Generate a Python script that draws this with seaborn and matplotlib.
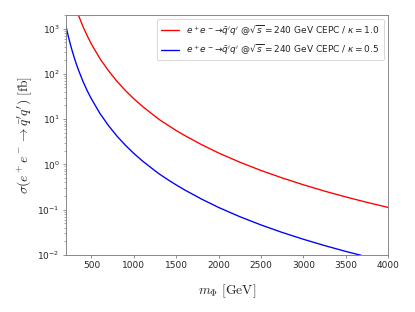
import numpy as np
import pandas as pd
import matplotlib
matplotlib.use("Agg")
import matplotlib.pyplot as plt
import seaborn as sns

# masses (GeV) and cross sections (fb)
mass_red = [300, 325, 350, 400, 450, 500, 600, 700, 800, 900, 1000, 1100, 1200, 1300,
            1400, 1500, 1600, 1800, 2000, 2250, 2500, 2750, 3000, 3250, 3500, 3750, 4000]
xsec_red = [3550, 2570, 1910, 1115, 695, 455, 218, 118, 69.0, 43.0, 28.2, 19.3, 13.7, 9.8,
            7.4, 5.6, 4.36, 2.73, 1.79, 1.12, 0.735, 0.502, 0.355, 0.257, 0.191, 0.145, 0.112]

mass_blue = [200, 225, 250, 275, 300, 325, 350, 400, 450, 500, 600, 700, 800, 900, 1000,
             1100, 1200, 1300, 1400, 1500, 1600, 1800, 2000, 2250, 2500, 2750, 3000, 3250,
             3500, 3750, 4000]
xsec_blue = [1122, 700, 460, 314, 220, 159, 118, 68.5, 42.6, 28.0, 13.4, 7.25, 4.25, 2.66, 1.75,
             1.20, 0.855, 0.615, 0.462, 0.352, 0.273, 0.171, 0.112, 0.070, 0.046, 0.0314, 0.0222, 0.0161,
             0.01196, 0.00908, 0.00701]

label_red = r"$e^+e^-\!\to\!\bar{q}'q'$ @$\sqrt{s}=240$ GeV CEPC / $\kappa=1.0$"
label_blue = r"$e^+e^-\!\to\!\bar{q}'q'$ @$\sqrt{s}=240$ GeV CEPC / $\kappa=0.5$"

sns.set_style("ticks")
plt.rcParams["font.family"] = ["DejaVu Sans"]
plt.rcParams["axes.edgecolor"] = "0.5"
plt.rcParams["axes.linewidth"] = 1.0
plt.rcParams["xtick.color"] = "0.4"
plt.rcParams["ytick.color"] = "0.4"
plt.rcParams["xtick.labelcolor"] = "0.15"
plt.rcParams["ytick.labelcolor"] = "0.15"
plt.rcParams["xtick.major.size"] = 3.5
plt.rcParams["ytick.major.size"] = 3.5
plt.rcParams["ytick.minor.size"] = 2.0
plt.rcParams["xtick.major.width"] = 0.8
plt.rcParams["ytick.major.width"] = 0.8
plt.rcParams["ytick.minor.width"] = 0.6

df_red = pd.DataFrame({"m": mass_red, "s": xsec_red})
df_blue = pd.DataFrame({"m": mass_blue, "s": xsec_blue})

fig, ax = plt.subplots(figsize=(6.385, 4.8), dpi=65)
fig.subplots_adjust(left=0.159, right=0.935, top=0.952, bottom=0.183)

sns.lineplot(data=df_red, x="m", y="s", color="red", lw=1.5, label=label_red, ax=ax)
sns.lineplot(data=df_blue, x="m", y="s", color="blue", lw=1.5, label=label_blue, ax=ax)

ax.set_yscale("log")
ax.set_xlim(200, 4000)
ax.set_ylim(1e-2, 2e3)
ax.set_xticks([500, 1000, 1500, 2000, 2500, 3000, 3500, 4000])
ax.tick_params(labelsize=10)

ax.set_xlabel(r"$m_\Phi\ [\mathrm{GeV}]$", fontsize=15, math_fontfamily="cm", labelpad=14)
ax.set_ylabel(r"$\sigma(e^+e^- \to \bar{q}'q')\ [\mathrm{fb}]$", fontsize=15, math_fontfamily="cm")

ax.legend(loc="upper right", fontsize=10, frameon=True)

fig.savefig("out.png", dpi=65)
